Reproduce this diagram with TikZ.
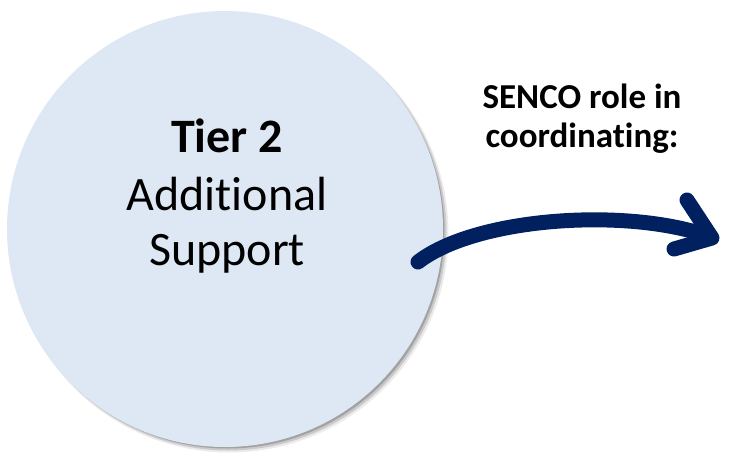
\documentclass[tikz,border=0pt]{standalone}
\usepackage{fontspec}
\setmainfont[Ligatures=NoCommon]{Carlito}
\definecolor{circfill}{HTML}{DEE8F4}
\definecolor{navy}{HTML}{002060}
\tikzset{
  tiertext/.style={anchor=base, inner sep=0pt, font=\fontsize{48}{56}\selectfont},
  sencotext/.style={anchor=base, inner sep=0pt, font=\fontsize{35}{40}\selectfont\bfseries},
  bigarrow/.style={draw=navy, line width=15pt, line cap=round, line join=round},
  shadowring/.style={circle, fill=black, minimum size=#1, inner sep=0pt}
}
\begin{document}
\begin{tikzpicture}[x=1pt,y=-1pt]
\useasboundingbox (0,0) rectangle (729,459);
% soft shadow (bottom right)
\node[shadowring=438pt, opacity=0.08] (s1) at (229.5,233.5) {};
\node[shadowring=436pt, opacity=0.14] (s2) at (228.5,232.5) {};
\node[shadowring=434pt, opacity=0.20] (s3) at (227.5,231.5) {};
% circle
\node[circle, fill=circfill, minimum size=436pt, inner sep=0pt] (c) at (225,229) {};
\node[tiertext, font=\fontsize{48}{56}\selectfont\bfseries] (t1) at (227,152) {Tier 2};
\node[tiertext] (t2) at (227,210) {Additional};
\node[tiertext] (t3) at (227,265) {Support};
% label
\node[sencotext] (l1) at (582,108) {SENCO role in};
\node[sencotext] (l2) at (582,147) {coordinating:};
% arrow
\coordinate (a0) at (418,262);
\coordinate (a1) at (702,234);
\coordinate (h1) at (687,200);
\coordinate (tip) at (712,238);
\coordinate (h2) at (674,249);
\draw[bigarrow] (a0) .. controls (475,218) and (620,208) .. (a1);
\draw[bigarrow] (h1) -- (tip) -- (h2);
\end{tikzpicture}
\end{document}
